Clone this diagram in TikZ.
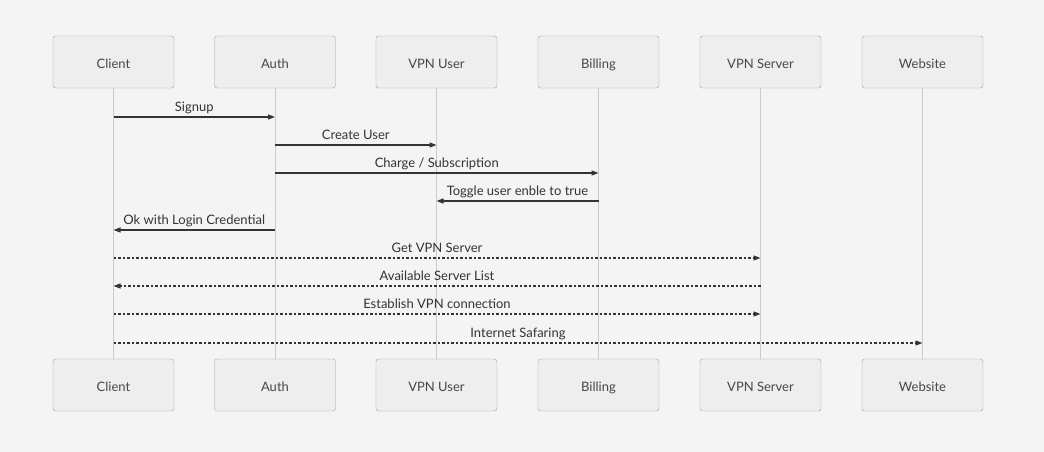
\documentclass[tikz,border=0pt]{standalone}
\usepackage{fontspec}
\setmainfont{Lato}
\usetikzlibrary{arrows.meta}
\definecolor{bg}{HTML}{F4F4F4}
\definecolor{boxfill}{HTML}{EEEEEE}
\definecolor{boxline}{HTML}{A0A0A0}
\definecolor{lifeline}{HTML}{CCCCCC}
\definecolor{msg}{HTML}{333333}
\begin{document}
\begin{tikzpicture}[x=1pt,y=-1pt,
  actor/.style={draw=boxline,fill=boxfill,rounded corners=2.5pt,minimum width=121pt,minimum height=52pt,inner sep=0pt,text height=12pt,text depth=0pt,font=\fontsize{13}{15}\selectfont,text=msg!90},
  life/.style={draw=lifeline,line width=0.9pt},
  msgline/.style={draw=msg,line width=1.1pt,-{Triangle[length=7pt,width=5pt]}},
  reply/.style={msgline,dash pattern=on 2.5pt off 2pt},
  lbl/.style={font=\fontsize{13}{15}\selectfont,text=msg,inner sep=0pt,anchor=base,yshift=5.5pt}]
\fill[bg] (0,0) rectangle (1044,452);
\useasboundingbox (0,0) rectangle (1044,452);
\foreach \n/\t/\x in {c/Client/113.5,a/Auth/275,u/VPN User/436.5,b/Billing/598.5,s/VPN Server/760.5,w/Website/922.5}{
  \coordinate (\n t) at (\x,88);
  \coordinate (\n b) at (\x,359);
  \draw[life] (\n t) -- (\n b);
  \node[actor] (\n top) at (\x,62) {\t};
  \node[actor] (\n bot) at (\x,385) {\t};
}
% message coordinates
\foreach \n/\x in {c/113.5,a/275,u/436.5,b/598.5,s/760.5,w/922.5}{
  \foreach \i/\y in {1/117,2/145,3/173,4/201,5/230,6/258,7/286,8/314,9/343}{
    \coordinate (\n\i) at (\x,\y);
  }
}
\draw[msgline] (c1) -- node[lbl] {Signup} (a1);
\draw[msgline] (a2) -- node[lbl] {Create User} (u2);
\draw[msgline] (a3) -- node[lbl] {Charge / Subscription} (b3);
\draw[msgline] (b4) -- node[lbl] {Toggle user enble to true} (u4);
\draw[msgline] (a5) -- node[lbl] {Ok with Login Credential} (c5);
\draw[reply] (c6) -- node[lbl] {Get VPN Server} (s6);
\draw[reply] (s7) -- node[lbl] {Available Server List} (c7);
\draw[reply] (c8) -- node[lbl] {Establish VPN connection} (s8);
\draw[reply] (c9) -- node[lbl] {Internet Safaring} (w9);
\end{tikzpicture}
\end{document}
